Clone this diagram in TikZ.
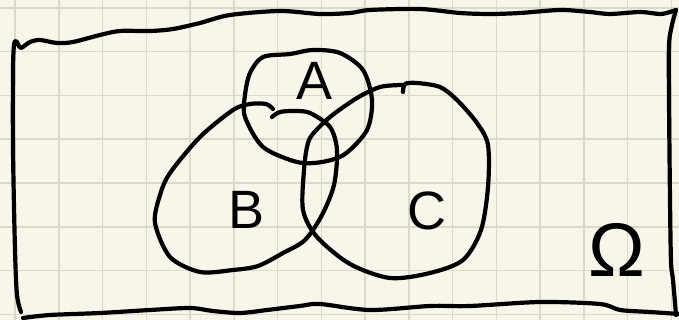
\documentclass[tikz,border=0pt]{standalone}
\usepackage{fontspec}
\setmainfont{Liberation Sans}
\usepackage{tikz}
\usetikzlibrary{positioning}

\definecolor{paper}{HTML}{F8F6EA}
\definecolor{gridline}{HTML}{DCD9C9}

\tikzset{
  pen/.style={line width=4.2pt, line cap=round, line join=round, black},
  setlabel/.style={inner sep=0pt, font=\fontsize{54}{54}\selectfont}
}

\begin{document}
\begin{tikzpicture}[x=1pt, y=-1pt]
\useasboundingbox (0,0) rectangle (679,320);
\fill[paper] (0,0) rectangle (679,320);
\foreach \i in {0,...,15}
  \draw[gridline, line width=1.5pt] ({15+43.75*\i},0) -- ({15+43.75*\i},320);
\foreach \j in {0,...,7}
  \draw[gridline, line width=1.5pt] (0,{8+43.75*\j}) -- (679,{8+43.75*\j});

% frame
\draw[pen] plot[smooth] coordinates {(21,312) (17,295) (15,250) (13,150) (13,70) (14,45) (16,41) (18,44) (21,48)
  (30,42) (40,40) (57,43) (73,42) (100,35) (120,31) (150,31) (173,29) (200,23) (230,15) (280,11) (320,14)
  (350,13) (370,10) (420,9) (460,13) (490,14) (520,13) (560,10) (590,12) (610,14) (640,12) (660,14) (670,12) (676,10)};
\draw[pen] plot[smooth] coordinates {(676,10) (672,25) (669,45) (669,100) (670,200) (671,262) (673,280) (676,315)};
\draw[pen] plot[smooth] coordinates {(23,318) (50,315) (100,313) (150,310) (190,308) (213,311) (240,313) (267,310)
  (300,306) (320,304) (370,310) (430,306) (470,306) (540,302) (600,304) (620,310) (650,312) (679,314)};

% A
\draw[pen] plot[smooth cycle] coordinates {(263,57) (290,54) (313,50) (340,53) (363,70) (372,100) (367,130)
  (345,154) (322,162) (297,162) (263,147) (245,117) (245,95) (250,73)};
% B
\draw[pen] plot[smooth] coordinates {(272,117) (280,112) (295,111) (310,113) (330,127) (337,150) (334,185)
  (322,215) (305,240) (283,253) (258,266) (233,270) (200,272) (170,257) (155,223) (160,195) (170,173)
  (200,137) (233,110) (250,104) (266,104) (273,109)};
% C
\draw[pen] plot[smooth] coordinates {(403,92) (405,84) (417,83) (440,87) (457,100) (477,123) (488,145)
  (488,187) (481,230) (463,260) (430,273) (390,278) (350,264) (317,237) (303,210) (304,170) (307,147)
  (312,135) (330,117) (357,98) (380,87) (402,85)};

\node[setlabel] (labA) at (315,81) {A};
\node[setlabel] (labB) at (247,210) {B};
\node[setlabel] (labC) at (427,211) {C};
\node[setlabel, font=\fontsize{76}{76}\selectfont] (labOmega) at (617,250) {Ω};
\end{tikzpicture}
\end{document}
